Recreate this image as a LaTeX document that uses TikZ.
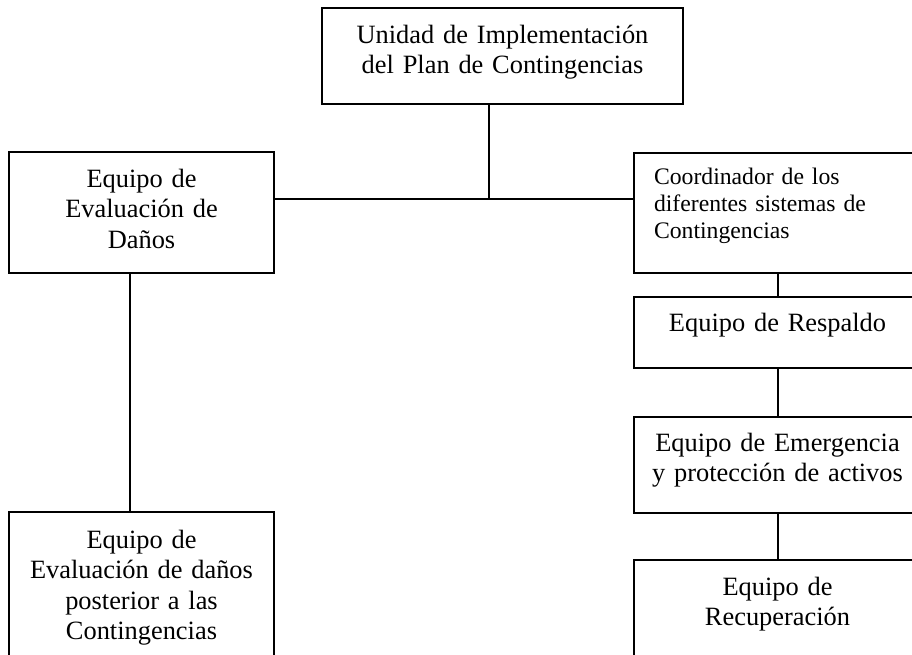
\documentclass[tikz,border=0pt]{standalone}
\usepackage{fontspec}
\setmainfont{Liberation Serif}
\usetikzlibrary{calc}

\begin{document}
\begin{tikzpicture}[x=1pt,y=-1pt,
  caja/.style={draw, line width=2pt, anchor=north west, inner sep=0pt,
    align=center, font=\fontsize{26.4}{30.5}\selectfont},
  linea/.style={line width=2pt}]
\useasboundingbox (0,0) rectangle (912,654);

% cajas
\node[caja, text width=361pt, text height=35pt, text depth=61pt] (unidad) at (321,7)
  {Unidad de Implementación\\del Plan de Contingencias};
\node[caja, text width=265pt, text height=35pt, text depth=86pt] (evaluacion) at (8,151)
  {Equipo de\\Evaluación de\\Daños};
\node[caja, align=left, inner xsep=20pt, text width=247pt, text height=31pt, text depth=89pt,
  font=\fontsize{23.7}{27}\selectfont] (coordinador) at (633,152)
  {Coordinador de los\\diferentes sistemas de\\Contingencias};
\node[caja, text width=287pt, text height=34pt, text depth=37pt] (respaldo) at (633,296)
  {Equipo de Respaldo};
\node[caja, text width=287pt, text height=34pt, text depth=62pt] (emergencia) at (633,416)
  {Equipo de Emergencia\\y protección de activos};
\node[caja, text width=287pt, text height=35pt, text depth=120pt] (recuperacion) at (633,559)
  {Equipo de\\Recuperación};
\node[caja, text width=265pt, text height=36pt, text depth=150pt] (posterior) at (8,511)
  {Equipo de\\Evaluación de daños\\posterior a las\\Contingencias};

% conexiones
\coordinate (cruce) at (489,199);
\draw[linea] (unidad.south -| cruce) -- (cruce);
\draw[linea] (evaluacion.east |- cruce) -- (coordinador.west |- cruce);
\draw[linea] ([xshift=-11.5pt]evaluacion.south) -- ([xshift=-11.5pt]posterior.north);
\draw[linea] (coordinador.south) -- (respaldo.north);
\draw[linea] (respaldo.south) -- (emergencia.north);
\draw[linea] (emergencia.south) -- (recuperacion.north);

\end{tikzpicture}
\end{document}
